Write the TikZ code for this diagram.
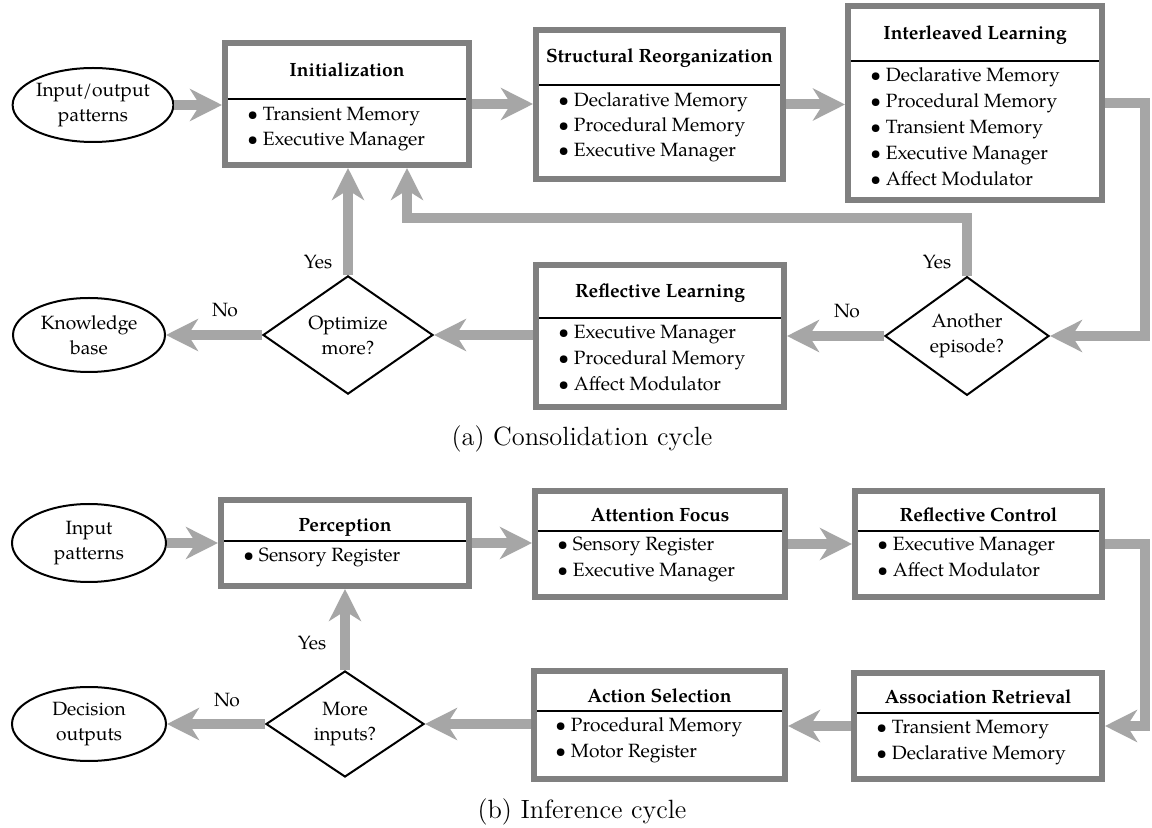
\documentclass[tikz,border=0pt]{standalone}
\usepackage{fontspec}
\newfontfamily\palfont{TeX Gyre Pagella}
\usetikzlibrary{arrows.meta,shapes.geometric}
\definecolor{boxgrey}{RGB}{128,128,128}
\definecolor{arrgrey}{RGB}{166,166,166}
\begin{document}
\begin{tikzpicture}[x=0.5pt,y=-0.5pt,
  every node/.style={inner sep=0pt},
  box/.style={rectangle, draw=boxgrey, line width=3pt, fill=white},
  ttl/.style={anchor=base, font=\palfont\bfseries\fontsize{9.6}{12.5}\selectfont},
  item/.style={anchor=base west, font=\palfont\fontsize{9.6}{12.5}\selectfont},
  sepline/.style={draw=black, line width=1pt},
  term/.style={ellipse, draw=black, line width=1pt, fill=white, align=center,
    font=\palfont\fontsize{9.6}{12.5}\selectfont},
  query/.style={diamond, draw=black, line width=1pt, fill=white, align=center,
    font=\palfont\fontsize{9.6}{12.5}\selectfont},
  lbl/.style={font=\palfont\fontsize{9.6}{12.5}\selectfont},
  arr/.style={draw=arrgrey, line width=5pt,
    -{Stealth[length=16pt,width=16pt,inset=5pt]}},
  caption/.style={anchor=base, font=\fontsize{13.2}{16}\selectfont}]

\useasboundingbox (0,0) rectangle (1152,828);
\fill[white] (0,0) rectangle (1152,828);

% ---------------- consolidation cycle ----------------
\node[term, minimum width=80pt, minimum height=37pt] (io) at (93,105) {Input/output\\patterns};
\node[term, minimum width=76pt, minimum height=37pt] (kb) at (89,335) {Knowledge\\base};

\node[box, minimum width=122pt, minimum height=61pt] (init) at (347,104) {};
\node[box, minimum width=123.5pt, minimum height=74.5pt] (struct) at (659.5,104.5) {};
\node[box, minimum width=127pt, minimum height=97pt] (inter) at (975,103) {};
\node[box, minimum width=124pt, minimum height=71pt] (refl) at (660,336) {};

\node[query, minimum width=82pt, minimum height=54.5pt] (another) at (967,336) {Another\\episode?};
\node[query, minimum width=85pt, minimum height=51pt] (optim) at (348,335) {Optimize\\more?};

% separators under the box titles
\draw[sepline] ([shift={(6,59)}]init.north west) -- ([shift={(-6,59)}]init.north east);
\draw[sepline] ([shift={(6,58)}]struct.north west) -- ([shift={(-6,58)}]struct.north east);
\draw[sepline] ([shift={(6,58)}]inter.north west) -- ([shift={(-6,58)}]inter.north east);
\draw[sepline] ([shift={(6,56)}]refl.north west) -- ([shift={(-6,56)}]refl.north east);

% titles and components
\node[ttl] (init-t) at (347,77) {Initialization};
\foreach \t [count=\i from 0] in {Transient Memory, Executive Manager}
  \node[item] (init-\i) at (247,{121+25*\i}) {\textbullet\ \t};

\node[ttl] (struct-t) at (659.5,63) {Structural Reorganization};
\foreach \t [count=\i from 0] in {Declarative Memory, Procedural Memory, Executive Manager}
  \node[item] (struct-\i) at (558,{107+25*\i}) {\textbullet\ \t};

\node[ttl] (inter-t) at (975,40) {Interleaved Learning};
\foreach \t [count=\i from 0] in {Declarative Memory, Procedural Memory, Transient Memory, Executive Manager, Affect Modulator}
  \node[item] (inter-\i) at (870,{82+25.8*\i}) {\textbullet\ \t};

\node[ttl] (refl-t) at (660,298) {Reflective Learning};
\foreach \t [count=\i from 0] in {Executive Manager, Procedural Memory, Affect Modulator}
  \node[item] (refl-\i) at (558,{339+26*\i}) {\textbullet\ \t};

% flow
\coordinate (initin2) at ([xshift=30pt]init.south);
\draw[arr] (io.east) -- (io.east -| init.west);
\draw[arr] (init.east) -- (init.east -| struct.west);
\draw[arr] (struct.east) -- (struct.east -| inter.west);
\draw[arr] (inter.east) -- ++(40,0) |- (another.east);
\draw[arr] (another.west) -- (another.west -| refl.east);
\draw[arr] (another.north) -- ++(0,-58) -| (initin2);
\draw[arr] (refl.west |- optim.east) -- (optim.east);
\draw[arr] (optim.north) -- (optim.north |- init.south);
\draw[arr] (optim.west) -- (optim.west -| kb.east);

\node[lbl] (yes-a1) at (937,262) {Yes};
\node[lbl] (no-a1) at (847,311) {No};
\node[lbl] (yes-a2) at (318,262) {Yes};
\node[lbl] (no-a2) at (225,310) {No};

\node[caption] (cap-a) at (582,446) {(a) Consolidation cycle};

% ---------------- inference cycle ----------------
\node[term, minimum width=77pt, minimum height=39pt] (inp) at (89,543) {Input\\patterns};
\node[term, minimum width=77pt, minimum height=37pt] (decout) at (89,724) {Decision\\outputs};

\node[box, minimum width=124pt, minimum height=43pt] (perc) at (345,543) {};
\node[box, minimum width=125pt, minimum height=53pt] (attn) at (660,544) {};
\node[box, minimum width=123.5pt, minimum height=53pt] (rctl) at (978.5,544) {};
\node[box, minimum width=124pt, minimum height=53pt] (assoc) at (978,726) {};
\node[box, minimum width=125.5pt, minimum height=54pt] (action) at (659.5,725) {};

\node[query, minimum width=79pt, minimum height=50pt] (more) at (345,724) {More\\inputs?};

\draw[sepline] ([shift={(6,44)}]perc.north west) -- ([shift={(-6,44)}]perc.north east);
\draw[sepline] ([shift={(6,43)}]attn.north west) -- ([shift={(-6,43)}]attn.north east);
\draw[sepline] ([shift={(6,43)}]rctl.north west) -- ([shift={(-6,43)}]rctl.north east);
\draw[sepline] ([shift={(6,43)}]assoc.north west) -- ([shift={(-6,43)}]assoc.north east);
\draw[sepline] ([shift={(6,43)}]action.north west) -- ([shift={(-6,43)}]action.north east);

\node[ttl] (perc-t) at (345,532) {Perception};
\node[item] (perc-0) at (243,562) {\textbullet\ Sensory Register};

\node[ttl] (attn-t) at (660,522) {Attention Focus};
\foreach \t [count=\i from 0] in {Sensory Register, Executive Manager}
  \node[item] (attn-\i) at (557,{551+26*\i}) {\textbullet\ \t};

\node[ttl] (rctl-t) at (978.5,522) {Reflective Control};
\foreach \t [count=\i from 0] in {Executive Manager, Affect Modulator}
  \node[item] (rctl-\i) at (877,{551+26*\i}) {\textbullet\ \t};

\node[ttl] (assoc-t) at (978,704) {Association Retrieval};
\foreach \t [count=\i from 0] in {Transient Memory, Declarative Memory}
  \node[item] (assoc-\i) at (876,{733+26*\i}) {\textbullet\ \t};

\node[ttl] (action-t) at (659.5,702) {Action Selection};
\foreach \t [count=\i from 0] in {Procedural Memory, Motor Register}
  \node[item] (action-\i) at (555,{731+26*\i}) {\textbullet\ \t};

\draw[arr] (inp.east) -- (inp.east -| perc.west);
\draw[arr] (perc.east) -- (perc.east -| attn.west);
\draw[arr] (attn.east) -- (attn.east -| rctl.west);
\draw[arr] (rctl.east) -- ++(40,0) |- (assoc.east);
\draw[arr] (assoc.west) -- (assoc.west -| action.east);
\draw[arr] (action.west |- more.east) -- (more.east);
\draw[arr] (more.north) -- (more.north |- perc.south);
\draw[arr] (more.west) -- (more.west -| decout.east);

\node[lbl] (yes-b) at (312,643) {Yes};
\node[lbl] (no-b) at (227,700) {No};

\node[caption] (cap-b) at (582,818) {(b) Inference cycle};
\end{tikzpicture}
\end{document}
